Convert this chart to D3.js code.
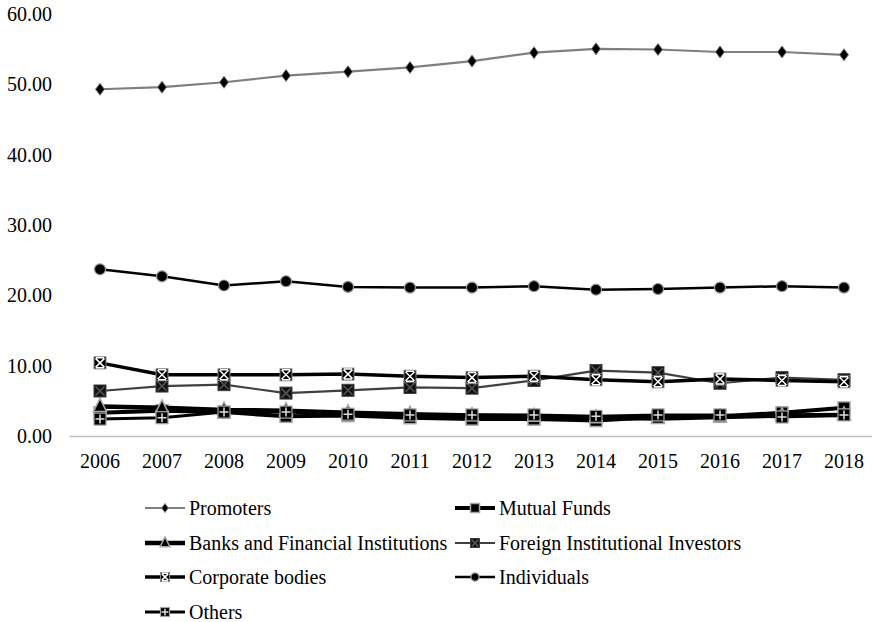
<!DOCTYPE html>
<html>
<head>
<meta charset="utf-8">
<script src="https://cdn.jsdelivr.net/npm/d3@7"></script>
<style>
  html, body { margin: 0; padding: 0; background: #fff; }
  svg { display: block; }
</style>
</head>
<body>
<svg id="chart" width="872" height="622"></svg>
<script>
// Shareholding pattern (% of equity) by investor category, 2006-2018
const years = ["2006","2007","2008","2009","2010","2011","2012","2013","2014","2015","2016","2017","2018"];
const yTicks = [0, 10, 20, 30, 40, 50, 60];

const promoters   = [49.3, 49.6, 50.3, 51.25, 51.8, 52.4, 53.3, 54.5, 55.05, 54.95, 54.6, 54.6, 54.2];
const mutualFunds = [3.3, 3.6, 3.4, 2.8, 2.9, 2.6, 2.4, 2.4, 2.2, 2.7, 2.8, 3.3, 4.0];
const banks       = [4.2, 4.0, 3.7, 3.6, 3.3, 3.1, 2.9, 2.8, 2.6, 2.5, 2.7, 2.9, 3.0];
const fii         = [6.4, 7.1, 7.3, 6.1, 6.5, 6.9, 6.8, 7.9, 9.3, 9.0, 7.5, 8.3, 8.0];
const corporate   = [10.4, 8.7, 8.7, 8.7, 8.8, 8.5, 8.3, 8.5, 8.0, 7.7, 8.1, 7.9, 7.7];
const individuals = [23.7, 22.7, 21.4, 22.0, 21.2, 21.1, 21.1, 21.3, 20.8, 20.9, 21.1, 21.3, 21.1];
const others      = [2.4, 2.6, 3.4, 3.4, 3.1, 3.0, 3.0, 3.0, 2.8, 3.0, 3.0, 2.7, 3.0];

const seriesNames = ["Promoters", "Mutual Funds", "Banks and Financial Institutions",
  "Foreign Institutional Investors", "Corporate bodies", "Individuals", "Others"];
const seriesValues = [promoters, mutualFunds, banks, fii, corporate, individuals, others];

const FONT = '"Liberation Serif"';
const FONT_SIZE = "20px";

// Visual style per series: line colour/width and marker kind
const styles = [
  { stroke: "#7f7f7f", width: 2.2, marker: "diamond" },
  { stroke: "#000000", width: 4,   marker: "square" },
  { stroke: "#000000", width: 4.5, marker: "triangle" },
  { stroke: "#404040", width: 2.2, marker: "squareX" },
  { stroke: "#000000", width: 3.5, marker: "asterisk" },
  { stroke: "#000000", width: 2.5, marker: "circle" },
  { stroke: "#000000", width: 3,   marker: "plus" }
];

const svg = d3.select("#chart");

const x = d3.scaleBand().domain(years).range([69, 875]);
const y = d3.scaleLinear().domain([0, 60]).range([436, 14]);
const cx = d => x(d) + x.bandwidth() / 2;

// y tick labels (no axis line, no gridlines)
svg.append("g").selectAll("text").data(yTicks).join("text")
  .attr("x", 52).attr("y", d => y(d)).attr("dy", "0.35em")
  .attr("text-anchor", "end").attr("fill", "#000")
  .style("font-family", FONT).style("font-size", FONT_SIZE)
  .text(d => d3.format(".2f")(d));

// x axis baseline and year labels
const xAxis = d3.axisBottom(x).tickSize(0).tickPadding(18);
const gx = svg.append("g").attr("transform", `translate(0,${y(0)})`).call(xAxis);
gx.select(".domain").attr("stroke", "#bfbfbf").attr("stroke-width", 1.5);
gx.selectAll("text").attr("fill", "#000")
  .style("font-family", FONT).style("font-size", FONT_SIZE);

// marker drawing helper
function drawMarker(g, kind, s) {
  const k = s || 1;
  if (kind === "diamond") {
    g.append("path").attr("d", `M0,${-6*k}L${4.5*k},0L0,${6*k}L${-4.5*k},0Z`)
      .attr("fill", "#000").attr("stroke", "#808080").attr("stroke-width", 1);
  } else if (kind === "square") {
    g.append("rect").attr("x", -6*k).attr("y", -6*k).attr("width", 12*k).attr("height", 12*k)
      .attr("fill", "#000").attr("stroke", "#a6a6a6").attr("stroke-width", 1.5);
  } else if (kind === "triangle") {
    g.append("path").attr("d", `M0,${-8*k}L${6.5*k},${5*k}L${-6.5*k},${5*k}Z`)
      .attr("fill", "#000").attr("stroke", "#a6a6a6").attr("stroke-width", 1.5);
  } else if (kind === "squareX") {
    g.append("rect").attr("x", -6*k).attr("y", -6*k).attr("width", 12*k).attr("height", 12*k)
      .attr("fill", "#111").attr("stroke", "#404040").attr("stroke-width", 1);
    g.append("path").attr("d", `M${-4.5*k},${-4.5*k}L${4.5*k},${4.5*k}M${4.5*k},${-4.5*k}L${-4.5*k},${4.5*k}`)
      .attr("stroke", "#555").attr("stroke-width", 1.5);
  } else if (kind === "asterisk") {
    g.append("rect").attr("x", -6*k).attr("y", -6*k).attr("width", 12*k).attr("height", 12*k)
      .attr("fill", "#000").attr("stroke", "#888").attr("stroke-width", 1);
    g.append("path").attr("d", `M${-4.5*k},${-4.5*k}L${4.5*k},${4.5*k}M${4.5*k},${-4.5*k}L${-4.5*k},${4.5*k}M${-4*k},${-5*k}L${4*k},${-5*k}M${-4*k},${5*k}L${4*k},${5*k}`)
      .attr("stroke", "#fff").attr("stroke-width", 1.5);
  } else if (kind === "circle") {
    g.append("circle").attr("r", 5.5*k)
      .attr("fill", "#000").attr("stroke", "#999").attr("stroke-width", 1.2);
  } else if (kind === "plus") {
    g.append("rect").attr("x", -6*k).attr("y", -6*k).attr("width", 12*k).attr("height", 12*k)
      .attr("fill", "#000").attr("stroke", "#a6a6a6").attr("stroke-width", 1.2);
    g.append("path").attr("d", `M${-4.5*k},0L${4.5*k},0M0,${-4.5*k}L0,${4.5*k}`)
      .attr("stroke", "#ddd").attr("stroke-width", 1.5);
  }
}

const line = d3.line().x((d, i) => cx(years[i])).y(d => y(d));

// draw series: lines then markers, series in order
seriesValues.forEach((vals, si) => {
  const st = styles[si];
  const g = svg.append("g").attr("class", "series");
  g.append("path").datum(vals).attr("d", line)
    .attr("fill", "none").attr("stroke", st.stroke).attr("stroke-width", st.width)
    .attr("stroke-linejoin", "round");
  vals.forEach((v, i) => {
    const m = g.append("g").attr("transform", `translate(${cx(years[i])},${y(v)})`);
    drawMarker(m, st.marker, 1);
  });
});

// legend: two columns, four rows
const legendPos = [
  [145, 508], [455, 508],
  [145, 543], [455, 543],
  [145, 577], [455, 577],
  [145, 612]
];
const legend = svg.append("g");
seriesNames.forEach((name, i) => {
  const [lx, ly] = legendPos[i];
  const st = styles[i];
  const g = legend.append("g");
  g.append("line").attr("x1", lx).attr("x2", lx + 40).attr("y1", ly).attr("y2", ly)
    .attr("stroke", st.stroke).attr("stroke-width", st.width);
  const m = g.append("g").attr("transform", `translate(${lx + 20},${ly})`);
  drawMarker(m, st.marker, 0.75);
  g.append("text").attr("x", lx + 44).attr("y", ly).attr("dy", "0.35em")
    .attr("fill", "#000").style("font-family", FONT).style("font-size", FONT_SIZE).text(name);
});
</script>
</body>
</html>
